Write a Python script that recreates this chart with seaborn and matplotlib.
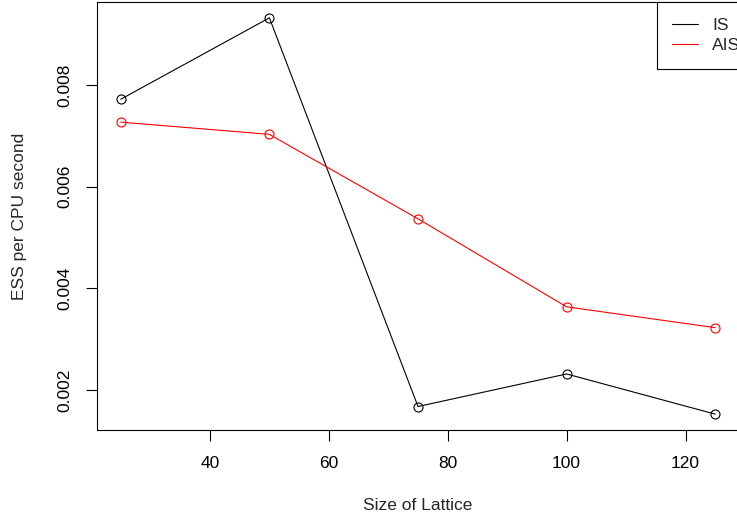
import matplotlib
matplotlib.use("Agg")
import matplotlib.pyplot as plt
import pandas as pd
import seaborn as sns

lattice = [25, 50, 75, 100, 125]
ess_is = [0.00772, 0.00932, 0.00168, 0.00232, 0.00153]
ess_ais = [0.00727, 0.00703, 0.00537, 0.00364, 0.00323]
x_ticks = [40, 60, 80, 100, 120]
y_ticks = [0.002, 0.004, 0.006, 0.008]

sns.set_style("ticks")
plt.rcParams["font.family"] = ["Liberation Sans", "DejaVu Sans"]

df = pd.DataFrame({"lattice": lattice, "IS": ess_is, "AIS": ess_ais})

fig = plt.figure(figsize=(7.37, 5.23), dpi=100)
ax = fig.add_axes([97 / 737, 1 - 430 / 523, (739 - 97) / 737, (430 - 2) / 523])

for name, col in [("IS", "black"), ("AIS", "red")]:
    sns.lineplot(data=df, x="lattice", y=name, color=col, linewidth=0.8,
                 marker="o", markersize=6.5, markerfacecolor="none",
                 markeredgecolor=col, markeredgewidth=0.8, label=name, ax=ax)

lo, hi = min(ess_is + ess_ais), max(ess_is + ess_ais)
pad = (hi - lo) * 0.04
ax.set_ylim(lo - pad, hi + pad)
ax.set_xlim(21, 129)
ax.set_xticks(x_ticks)
ax.set_yticks(y_ticks)
ax.set_yticklabels([f"{v:.3f}" for v in y_ticks], rotation=90, va="center")
ax.tick_params(direction="out", length=8, width=0.8, labelsize=12.5, colors="black")
ax.tick_params(axis="x", pad=11)
ax.tick_params(axis="y", pad=9.5)
for s in ax.spines.values():
    s.set_visible(True)
    s.set_linewidth(0.8)
    s.set_color("black")

ax.set_xlabel("Size of Lattice", fontsize=12.5, labelpad=19)
ax.set_ylabel("ESS per CPU second", fontsize=12.5, labelpad=22)

leg = ax.legend(loc="upper right", bbox_to_anchor=(756 / 737, 1 - 2 / 523),
                bbox_transform=fig.transFigure, fontsize=12.5, frameon=True,
                fancybox=False, edgecolor="black", framealpha=1,
                handlelength=1.5, handletextpad=0.8,
                borderaxespad=0, borderpad=0.9, labelspacing=0.3)
leg.get_frame().set_linewidth(0.8)
for h in leg.legend_handles:
    h.set_marker("")

fig.savefig("out.png", dpi=100)
